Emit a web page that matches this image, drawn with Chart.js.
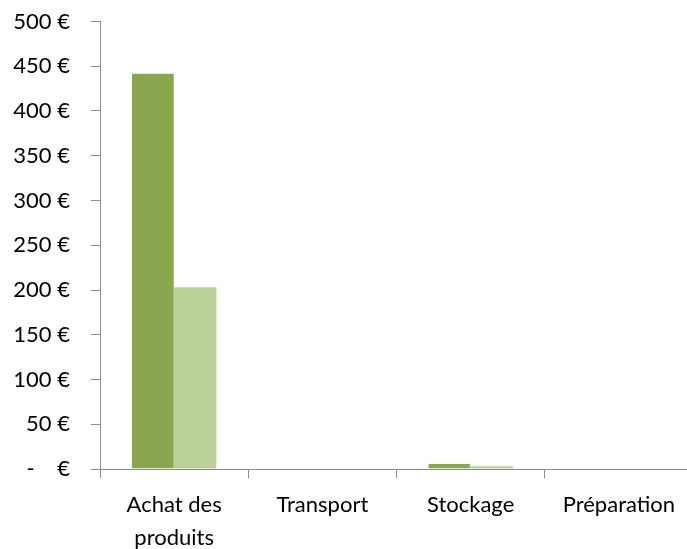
<!DOCTYPE html>
<html>
<head>
<meta charset="utf-8">
<script src="https://cdn.jsdelivr.net/npm/chart.js@4"></script>
<style>
  body { margin: 0; overflow: hidden; background: #fff; }
  canvas { display: block; margin-top: -16px; }
</style>
</head>
<body>
<canvas id="myBarChart" width="700" height="565"></canvas>
<script>
// categories and the two series (values in euros)
let categories = [['Achat des', 'produits'], 'Transport', 'Stockage', 'Préparation'];
let serie1 = [442, 0, 6, 0];
let serie2 = [203, 0, 3, 0];
let yTicks = [0, 50, 100, 150, 200, 250, 300, 350, 400, 450, 500];

var font = { family: 'Lato, "Open Sans", sans-serif', size: 22, lineHeight: 1.5 };

var data = {
  labels: categories,
  datasets: [{
    label: 'Série 1',
    data: serie1,
    backgroundColor: '#8aa64f',
    borderColor: '#a3bb74',
    borderWidth: { right: 1 },
    categoryPercentage: 0.57,
    barPercentage: 1
  }, {
    label: 'Série 2',
    data: serie2,
    backgroundColor: '#bad098',
    borderWidth: 0,
    categoryPercentage: 0.57,
    barPercentage: 1
  }]
};

var ctx = document.getElementById('myBarChart').getContext('2d');
var myBarChart = new Chart(ctx, {
  type: 'bar',
  data: data,
  options: {
    responsive: false,
    animation: false,
    layout: { padding: { top: -2, right: 7, left: 0, bottom: 0 } },
    plugins: { legend: { display: false }, tooltip: { enabled: false } },
    scales: {
      x: {
        grid: { drawOnChartArea: false, drawTicks: true, tickLength: 9, color: '#8c8c8c', offset: true },
        border: { color: '#8c8c8c', width: 1 },
        ticks: { color: '#000', font: font, padding: 10, maxRotation: 0, autoSkip: false },
        afterFit: function (scale) { scale.height = 80; }
      },
      y: {
        min: 0,
        max: 500,
        afterBuildTicks: function (scale) {
          scale.ticks = yTicks.map(v => ({ value: v }));
        },
        grid: { drawOnChartArea: false, drawTicks: true, tickLength: 9, color: '#8c8c8c' },
        border: { color: '#8c8c8c', width: 1 },
        ticks: {
          color: '#000',
          font: font,
          padding: 21,
          callback: function (v) { return v === 0 ? '-    €' : v + ' €'; }
        },
        afterFit: function (scale) { scale.width = 100; }
      }
    }
  }
});
</script>
</body>
</html>
